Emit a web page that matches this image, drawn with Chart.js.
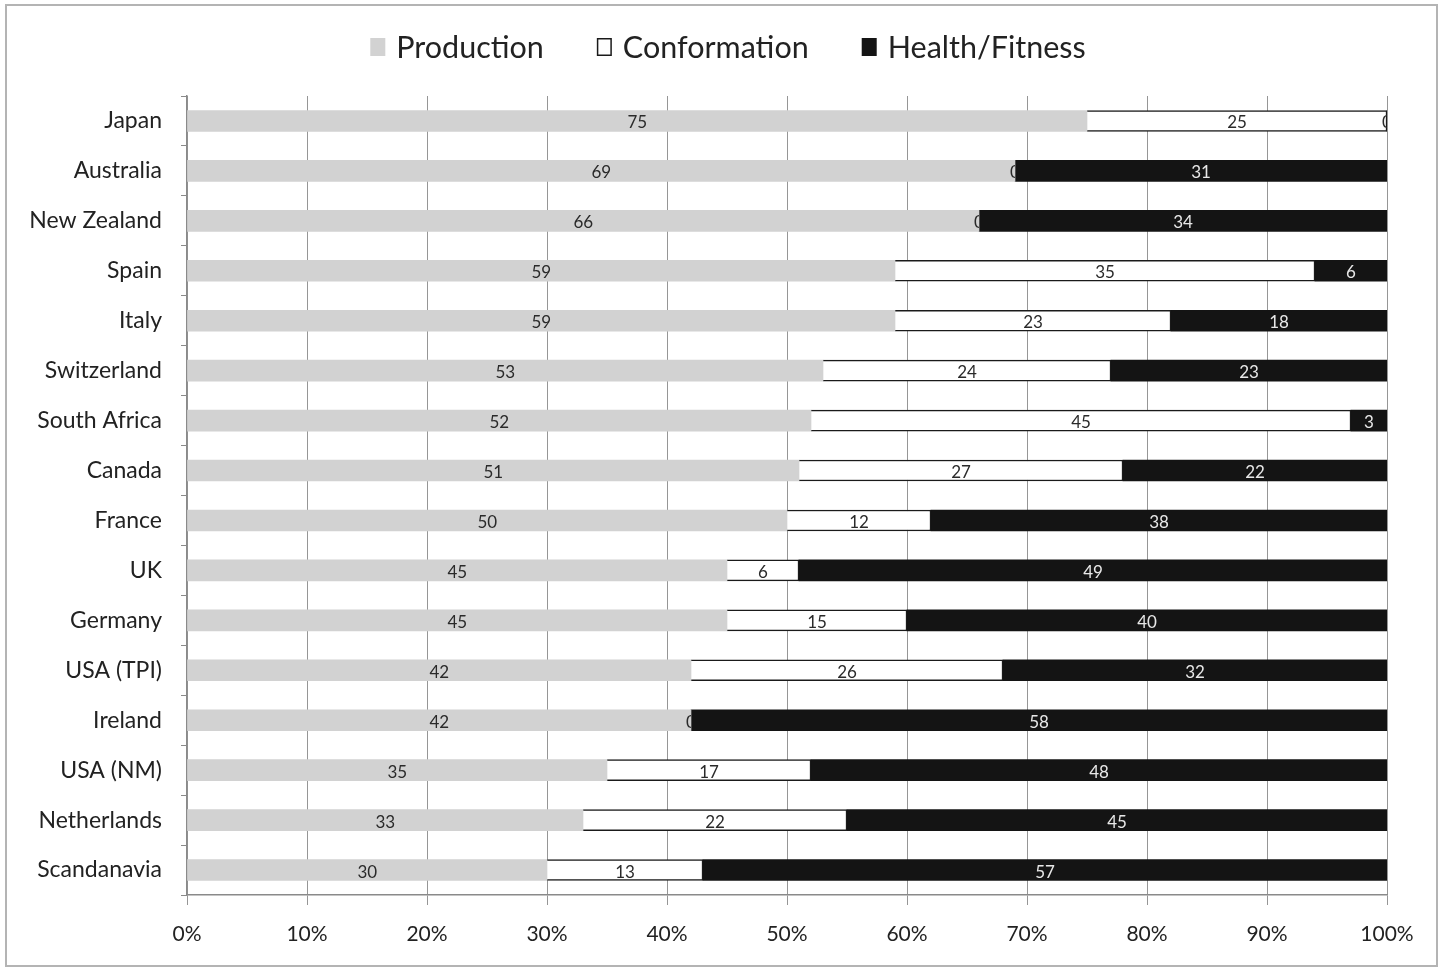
<!DOCTYPE html>
<html>
<head>
<meta charset="utf-8">
<script src="https://cdn.jsdelivr.net/npm/chart.js@4/dist/chart.umd.min.js"></script>
<style>
  html, body { margin: 0; padding: 0; background: #fff; }
  #wrap { width: 1445px; height: 971px; position: relative; }
</style>
</head>
<body>
<div id="wrap"><canvas id="c" width="1445" height="971"></canvas></div>
<script>
// Breeding-goal emphasis by country (percent of total index weight)
const countries = ['Japan', 'Australia', 'New Zealand', 'Spain', 'Italy', 'Switzerland',
  'South Africa', 'Canada', 'France', 'UK', 'Germany', 'USA (TPI)', 'Ireland',
  'USA (NM)', 'Netherlands', 'Scandanavia'];
const production   = [75, 69, 66, 59, 59, 53, 52, 51, 50, 45, 45, 42, 42, 35, 33, 30];
const conformation = [25,  0,  0, 35, 23, 24, 45, 27, 12,  6, 15, 26,  0, 17, 22, 13];
const healthFitness = [ 0, 31, 34,  6, 18, 23,  3, 22, 38, 49, 40, 32, 58, 48, 45, 57];
const xTicks = [0, 10, 20, 30, 40, 50, 60, 70, 80, 90, 100];

const FONT = 'Lato, "Open Sans", "DejaVu Sans", sans-serif';

// White page with a thin grey frame
const framePlugin = {
  id: 'frame',
  beforeDraw(chart) {
    const ctx = chart.ctx;
    ctx.save();
    ctx.fillStyle = '#fff';
    ctx.fillRect(0, 0, chart.width, chart.height);
    ctx.strokeStyle = '#b4b4b4';
    ctx.lineWidth = 2;
    ctx.strokeRect(6, 5, 1431, 961);
    ctx.restore();
  }
};

// Legend row across the top, built from the dataset styles
const topLegend = {
  id: 'topLegend',
  afterDraw(chart) {
    const ctx = chart.ctx;
    const ds = chart.data.datasets;
    const box = 15, gap = 11, spacing = 53, cy = 47, centerX = 728;
    ctx.save();
    ctx.font = '30.5px ' + FONT;
    ctx.textBaseline = 'middle';
    ctx.textAlign = 'left';
    const widths = ds.map(d => ctx.measureText(d.label).width);
    const total = widths.reduce((a, w) => a + w + box + gap, 0) + spacing * (ds.length - 1);
    let x = centerX - total / 2;
    ds.forEach((d, i) => {
      ctx.fillStyle = d.backgroundColor;
      ctx.fillRect(x, cy - 9, box, 18);
      if (d.borderWidth) {
        ctx.strokeStyle = d.borderColor;
        ctx.lineWidth = 1.5;
        ctx.strokeRect(x + 0.75, cy - 8.25, box - 1.5, 16.5);
      }
      ctx.fillStyle = '#222';
      ctx.fillText(d.label, x + box + gap, cy + 1);
      x += box + gap + widths[i] + spacing;
    });
    ctx.restore();
  }
};

// Value labels centred in each segment; a zero segment shows only the part
// of its label left of the segment edge
const valueLabels = {
  id: 'valueLabels',
  afterDatasetsDraw(chart) {
    const ctx = chart.ctx;
    ctx.save();
    ctx.font = '17px ' + FONT;
    ctx.textAlign = 'center';
    ctx.textBaseline = 'middle';
    chart.data.datasets.forEach((ds, di) => {
      const meta = chart.getDatasetMeta(di);
      ctx.fillStyle = ds.labelColor;
      meta.data.forEach((bar, i) => {
        const v = ds.data[i];
        const p = bar.getProps(['x', 'y', 'base'], true);
        const cx = (p.x + p.base) / 2;
        if (v === 0) {
          ctx.save();
          ctx.beginPath();
          ctx.rect(0, 0, p.x, chart.height);
          ctx.clip();
          ctx.fillStyle = '#2a2a2a';
          ctx.fillText(String(v), cx, p.y + 2);
          ctx.restore();
        } else {
          ctx.fillText(String(v), cx, p.y + 2);
        }
      });
    });
    ctx.restore();
  }
};

new Chart(document.getElementById('c'), {
  type: 'bar',
  data: {
    labels: countries,
    datasets: [
      { label: 'Production', data: production, backgroundColor: '#d2d2d2',
        borderWidth: 0, labelColor: '#2a2a2a', barThickness: 21 },
      { label: 'Conformation', data: conformation, backgroundColor: '#ffffff',
        borderColor: '#1a1a1a', borderWidth: 1.5, labelColor: '#2a2a2a', barThickness: 21 },
      { label: 'Health/Fitness', data: healthFitness, backgroundColor: '#141414',
        borderWidth: 0, labelColor: '#e8e8e8', barThickness: 21 }
    ]
  },
  options: {
    indexAxis: 'y',
    responsive: false,
    animation: false,
    layout: { padding: { top: 96, right: 58, bottom: 5, left: 0 } },
    plugins: {
      tooltip: { enabled: false },
      legend: { display: false }
    },
    scales: {
      x: {
        stacked: true,
        min: 0,
        max: 100,
        afterBuildTicks(scale) { scale.ticks = xTicks.map(v => ({ value: v })); },
        afterFit(scale) { scale.height = 71; },
        ticks: {
          padding: 17,
          color: '#222',
          font: { family: FONT, size: 21 },
          callback: v => v + '%'
        },
        grid: { color: '#969696', lineWidth: 1, tickLength: 10, drawOnChartArea: true },
        border: { color: '#8a8a8a', width: 1.5 }
      },
      y: {
        stacked: true,
        afterFit(scale) { scale.width = 187; },
        ticks: {
          padding: 19,
          color: '#222',
          font: { family: FONT, size: 23 }
        },
        grid: { drawOnChartArea: false, offset: true, tickLength: 6, color: '#8a8a8a' },
        border: { color: '#8a8a8a', width: 1.5 }
      }
    }
  },
  plugins: [framePlugin, valueLabels, topLegend]
});
</script>
</body>
</html>
